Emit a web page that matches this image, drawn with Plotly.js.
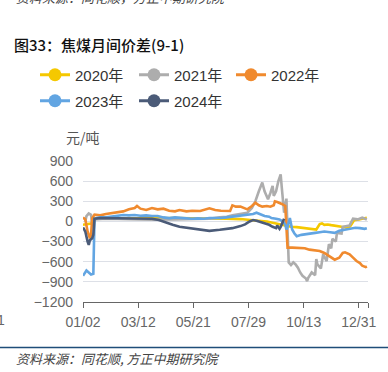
<!DOCTYPE html>
<html>
<head>
<meta charset="utf-8">
<script src="https://cdn.plot.ly/plotly-3.0.1.min.js"></script>
<style>html,body{margin:0;padding:0;background:#fff;}#chart{width:388px;height:372px;}</style>
</head>
<body>
<div id="chart"></div>
<script>
// Tick positions (trading-day index) and labels
const tickIdx = [0, 48, 96, 144, 192, 240, 248];
const tickText = ['01/02', '03/12', '05/21', '07/29', '10/13', '12/31', ''];
const seriesNames = ['2020年', '2021年', '2022年', '2023年', '2024年'];

// 2020
const x2020 = [0,3,7,10,20,35,50,65,80,95,110,125,137,143,150,160,166,172,177,181,186,192,196,203,206,208,210,213,216,220,225,228,231,233,236,240,244,247];
const y2020 = [-50,-40,-30,40,40,35,40,45,50,50,45,40,35,30,15,0,-20,-40,-60,-80,-85,-100,-110,-120,-40,-30,-50,-45,-55,-70,-80,-85,-100,-60,20,30,45,55];

// 2021
const x2021 = [2,3,5,7,8,10,20,40,60,80,100,110,119,125,130,137,143,147,150,153,156,158,161,163,165,166,168,170,172,173,174,175,177,178,179,181,183,185,187,189,191,194,195,196,199,202,203,204,207,209,212,214,216,217,220,221,225,226,229,232,235,239,243,247];
const y2021 = [0,80,120,100,-50,30,40,30,25,30,35,40,60,70,90,110,130,200,300,450,580,450,330,420,530,380,450,600,700,500,330,130,340,-200,-610,-650,-610,-640,-690,-760,-810,-850,-890,-840,-760,-800,-560,-640,-700,-490,-590,-340,-400,-260,-300,-170,-180,-80,-70,-60,40,30,55,30];

// 2022
const x2022 = [0,2,4,6,7,8,10,15,20,25,30,35,40,45,47,50,55,60,65,70,75,80,84,90,95,102,110,115,120,125,128,130,133,137,140,143,147,150,153,156,160,163,166,167,169,171,173,176,177,178,182,188,193,197,201,206,210,215,219,223,226,228,230,232,235,238,241,243,246,247];
const y2022 = [60,30,-150,-250,-200,50,100,90,110,120,140,150,180,200,230,190,170,200,180,190,160,150,170,150,160,155,195,170,160,150,155,240,220,220,200,180,230,280,240,220,230,220,240,300,290,280,260,230,-70,-390,-390,-400,-400,-420,-430,-440,-470,-520,-570,-540,-470,-460,-480,-490,-540,-590,-620,-660,-680,-670];

// 2023
const x2023 = [0,2,3,5,7,9,10,12,15,20,25,30,35,40,45,50,55,60,65,70,75,80,85,90,95,100,105,110,115,120,125,130,137,143,148,151,155,158,162,164,168,171,174,176,177,178,180,181,182,184,186,190,193,197,202,206,210,215,219,223,228,232,237,241,245,247];
const y2023 = [-810,-760,-730,-760,-790,-780,30,50,60,60,70,90,95,90,95,85,90,80,80,60,50,60,50,40,40,45,40,50,45,50,60,70,80,100,110,130,100,80,70,50,40,30,0,-45,-120,-80,50,-30,-120,-180,-220,-200,-190,-180,-170,-160,-150,-160,-170,-140,-120,-110,-95,-100,-110,-100];

// 2024
const x2024 = [0,2,4,5,6,8,9,10,15,20,30,40,50,60,66,72,78,84,93,102,110,119,125,130,137,141,145,148,151,155,158,162,165,168,169,171,172,174,175];
const y2024 = [-90,-150,-300,-350,-280,-250,-200,40,50,50,45,40,45,40,20,-20,-50,-80,-100,-120,-140,-125,-115,-100,-70,-45,0,20,10,-10,-25,-50,-80,-100,-60,-110,-80,20,40];

const colors = ['#F5C800', '#ADADAD', '#F08A2E', '#62A5E2', '#4B5B78'];
const xs = [x2020, x2021, x2022, x2023, x2024];
const ys = [y2020, y2021, y2022, y2023, y2024];

const W = 388, H = 372;
const L = 83, R = 20, T = 161, B = 70;
const PW = W - L - R, PH = H - T - B;
const px = v => (v - L) / PW;
const py = v => (H - B - v) / PH;

const font = 'Liberation Sans, Arial, Noto Sans CJK SC, sans-serif';
const cjk = 'Noto Sans CJK SC, sans-serif';

const legendIds = ['legend', 'legend2', 'legend3', 'legend4', 'legend5'];
const legendPos = [[35, 75], [134, 75], [231, 75], [35, 101], [134, 101]];

const traces = [];
for (let i = 0; i < 5; i++) {
  traces.push({
    x: xs[i], y: ys[i], type: 'scatter', mode: 'lines',
    line: {color: colors[i], width: 2.6}, showlegend: false, hoverinfo: 'skip'
  });
}
// legend entries
for (let i = 0; i < 5; i++) {
  traces.push({
    x: [null], y: [null], type: 'scatter', mode: 'lines+markers',
    name: seriesNames[i],
    line: {color: colors[i], width: 3},
    marker: {color: colors[i], size: 13},
    legend: legendIds[i]
  });
}

const layout = {
  width: W, height: H,
  margin: {l: L, r: R, t: T, b: B},
  paper_bgcolor: '#fff', plot_bgcolor: '#fff',
  title: {
    text: '图33：焦煤月间价差(9-1)', xref: 'container', yref: 'container',
    x: 14 / W, xanchor: 'left', y: 1 - 46 / H, yanchor: 'middle',
    font: {family: cjk, size: 15, color: '#111', weight: 500}
  },
  xaxis: {
    range: [0, 248], tickmode: 'array', tickvals: tickIdx, ticktext: tickText,
    showgrid: false, zeroline: false, showline: true, linecolor: '#666', linewidth: 1.2,
    ticks: 'outside', ticklen: 5, tickcolor: '#666', tickwidth: 1,
    tickfont: {family: font, size: 14, color: '#666'}, ticklabelstandoff: 2,
    fixedrange: true
  },
  yaxis: {
    range: [-1200, 900], tickvals: [-1200, -900, -600, -300, 0, 300, 600, 900],
    showgrid: true, gridcolor: '#DDE0E7', gridwidth: 1, zeroline: false, showline: false,
    ticks: '', tickfont: {family: font, size: 14, color: '#666'}, ticklabelstandoff: 9,
    fixedrange: true
  },
  annotations: [
    {text: '元/吨', xref: 'paper', yref: 'paper', x: px(64), y: py(137), xanchor: 'left', yanchor: 'middle',
     showarrow: false, font: {family: cjk, size: 14, color: '#555'}},
    {text: '<i>资料来源：同花顺，方正中期研究院</i>', xref: 'paper', yref: 'paper', x: px(14), y: py(-3), xanchor: 'left', yanchor: 'middle',
     showarrow: false, font: {family: cjk, size: 13, color: '#444'}},
    {text: '<i>资料来源：同花顺, 方正中期研究院</i>', xref: 'paper', yref: 'paper', x: px(14), y: py(358), xanchor: 'left', yanchor: 'middle',
     showarrow: false, font: {family: cjk, size: 13, color: '#444'}},
    {text: '1', xref: 'paper', yref: 'paper', x: px(7), y: py(320), xanchor: 'right', yanchor: 'middle',
     showarrow: false, font: {family: font, size: 14, color: '#666'}}
  ],
  shapes: [
    {type: 'line', xref: 'paper', yref: 'paper', x0: px(0), x1: px(388), y0: py(347.5), y1: py(347.5),
     line: {color: '#1F4E79', width: 1.5}}
  ]
};

for (let i = 0; i < 5; i++) {
  layout[legendIds[i]] = {
    orientation: 'h', xref: 'container', yref: 'container',
    x: legendPos[i][0] / W, y: 1 - legendPos[i][1] / H,
    xanchor: 'left', yanchor: 'middle',
    font: {family: font, size: 15, color: '#333'},
    bgcolor: 'rgba(0,0,0,0)', borderwidth: 0, itemwidth: 30
  };
}

Plotly.newPlot('chart', traces, layout, {displayModeBar: false, staticPlot: true});
</script>
</body>
</html>
